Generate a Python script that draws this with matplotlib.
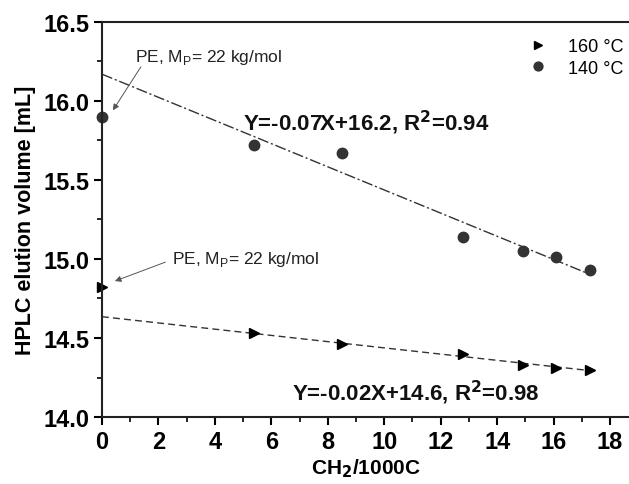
import numpy as np
import matplotlib
matplotlib.use("Agg")
import matplotlib.pyplot as plt
from matplotlib.ticker import MultipleLocator

plt.rcParams['font.family'] = ['Liberation Sans', 'DejaVu Sans']

# CH2 per 1000 C and elution volumes
ch2 = [0, 5.4, 8.5, 12.8, 14.9, 16.1, 17.3]
vol_140 = [15.90, 15.72, 15.67, 15.14, 15.05, 15.01, 14.93]
vol_160 = [14.82, 14.53, 14.46, 14.40, 14.33, 14.31, 14.30]

eq_140 = "Y=-0.07X+16.2, R$^\\mathbf{2}$=0.94"
eq_160 = "Y=-0.02X+14.6, R$^\\mathbf{2}$=0.98"
pe_label = "PE, M$_\\mathregular{P}$= 22 kg/mol"

col = '#333333'

fig = plt.figure(figsize=(6.29, 4.85), dpi=100)
ax = fig.add_axes([0.162, 0.138, 0.838, 0.815])

# linear fits on the branched samples only (PE reference excluded)
x = np.array(ch2[1:])
p140 = np.polyfit(x, vol_140[1:], 1)
p160 = np.polyfit(x, vol_160[1:], 1)
xf1 = np.array([0, 17.3])
xf2 = np.array([0, 17.5])
ax.plot(xf1, np.polyval(p140, xf1), color=col, lw=1.0, ls=(0, (8, 2, 1.5, 2)))
ax.plot(xf2, np.polyval(p160, xf2), color=col, lw=1.0, ls=(0, (5, 3)))

ax.plot(ch2, vol_160, '>', color='black', ms=7.5, ls='none', label='160 °C', clip_on=False)
ax.plot(ch2, vol_140, 'o', color=col, ms=7.5, ls='none', label='140 °C', clip_on=False)

ax.set_xlim(0, 18.67)
ax.set_ylim(14.0, 16.5)
ax.xaxis.set_major_locator(MultipleLocator(2))
ax.xaxis.set_minor_locator(MultipleLocator(1))
ax.yaxis.set_major_locator(MultipleLocator(0.5))
ax.yaxis.set_minor_locator(MultipleLocator(0.25))
ax.yaxis.set_major_formatter(matplotlib.ticker.FormatStrFormatter('%.1f'))
ax.tick_params(which='major', direction='out', length=6, width=1.5, labelsize=17, pad=3)
ax.tick_params(which='minor', direction='out', length=3.5, width=1.2)
for lab in ax.get_xticklabels() + ax.get_yticklabels():
    lab.set_fontweight('bold')

for s in ['left', 'bottom', 'top']:
    ax.spines[s].set_linewidth(1.5)
    ax.spines[s].set_color('#222222')
ax.spines['right'].set_visible(False)

ax.set_xlabel("CH$_\\mathbf{2}$/1000C", fontsize=15, fontweight='bold', labelpad=3)
ax.set_ylabel("HPLC elution volume [mL]", fontsize=15.5, fontweight='bold', labelpad=5)

ax.text(5.0, 15.87, eq_140, fontsize=16, fontweight='bold', va='center', color='#111111')
ax.text(6.75, 14.16, eq_160, fontsize=16, fontweight='bold', va='center', color='#111111')

# PE reference labels with arrows
arrow = dict(arrowstyle='-|>', color='#555555', lw=0.7, mutation_scale=9,
             shrinkA=0, shrinkB=0)
ax.text(1.17, 16.28, pe_label, fontsize=12.5, color='#222222', va='center')
ax.annotate('', xy=(0.39, 15.94), xytext=(1.38, 16.215), arrowprops=arrow)
ax.text(2.5, 15.0, pe_label, fontsize=12.5, color='#222222', va='center')
ax.annotate('', xy=(0.46, 14.86), xytext=(2.25, 14.98), arrowprops=arrow)

ax.legend(loc='upper right', bbox_to_anchor=(1.02, 1.0), frameon=False, fontsize=13,
          handletextpad=0.9, labelspacing=0.25, markerscale=0.85, handlelength=1.5)

fig.savefig('out.png', dpi=100)
